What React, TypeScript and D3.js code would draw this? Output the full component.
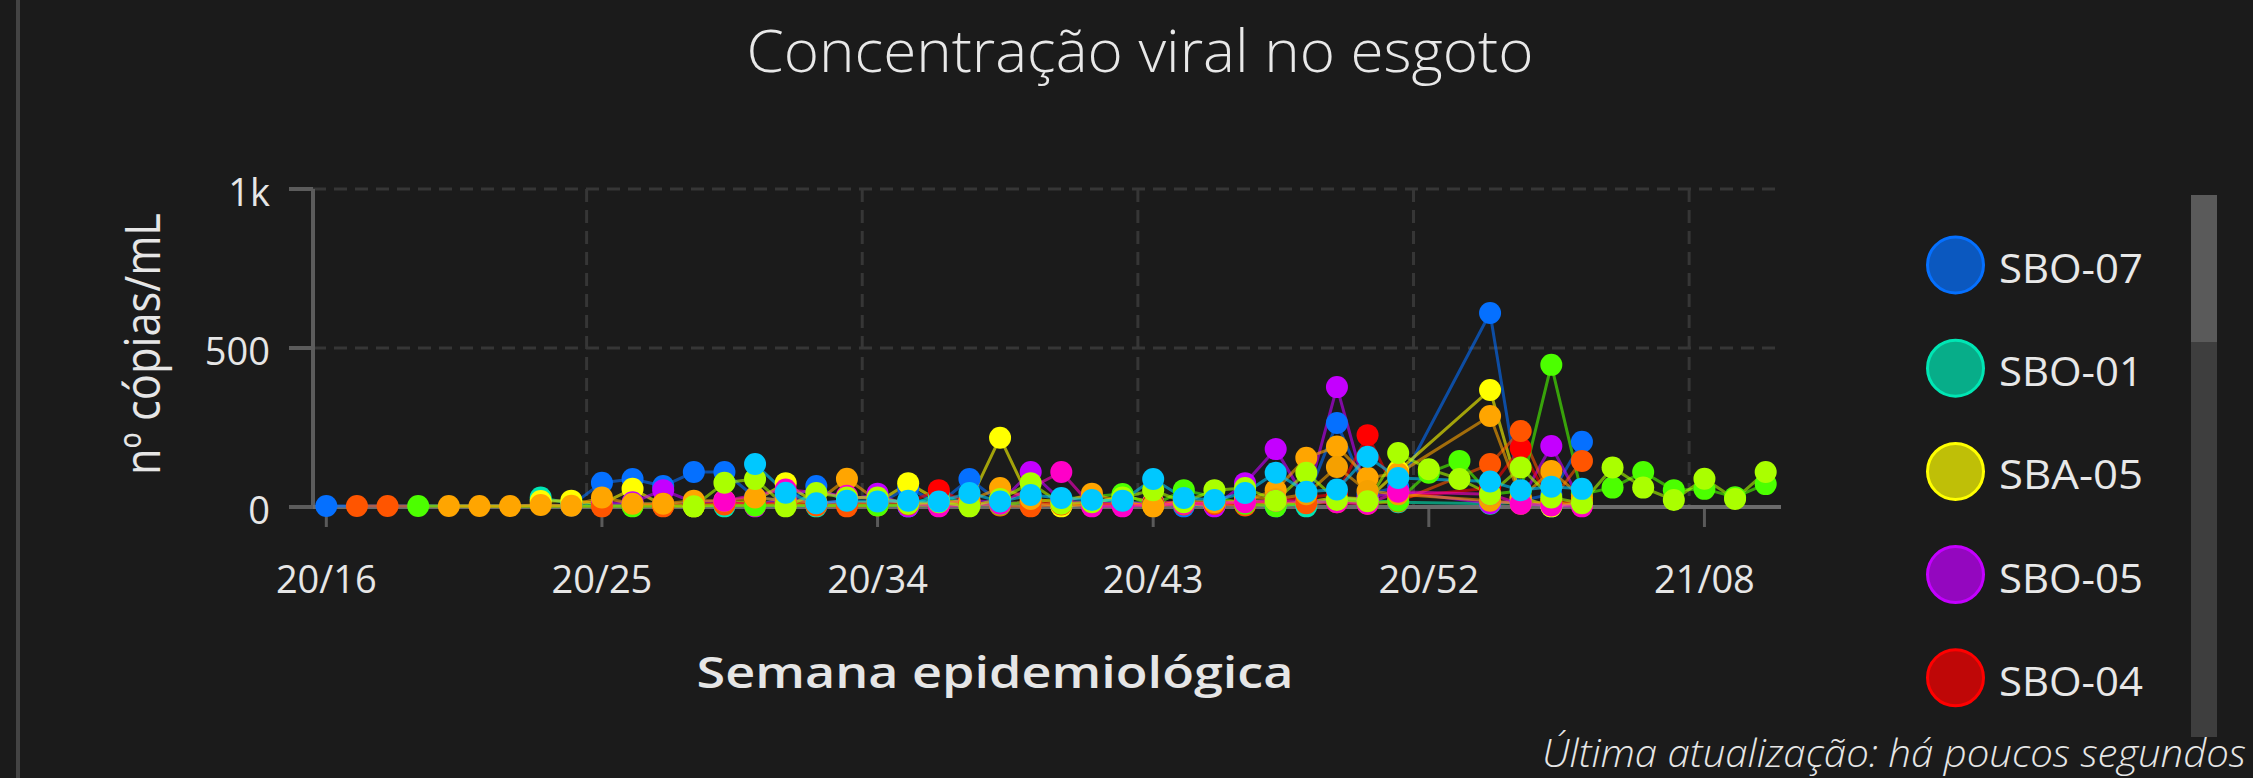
import React from "react";
import * as d3 from "d3";

const weeks = [
  "20/16", "20/17", "20/18", "20/19", "20/20", "20/21", "20/22", "20/23", "20/24", "20/25",
  "20/26", "20/27", "20/28", "20/29", "20/30", "20/31", "20/32", "20/33", "20/34", "20/35",
  "20/36", "20/37", "20/38", "20/39", "20/40", "20/41", "20/42", "20/43", "20/44", "20/45",
  "20/46", "20/47", "20/48", "20/49", "20/50", "20/51", "20/52", "20/53", "21/01", "21/02",
  "21/03", "21/04", "21/05", "21/06", "21/07", "21/08", "21/09", "21/10",
];
const tickWeeks = ["20/16", "20/25", "20/34", "20/43", "20/52", "21/08"];
const yTicks = [0, 500, 1000];
const yTickLabels = ["0", "500", "1k"];

const _ = null;
// nº cópias/mL per station, one entry per week (null = no sample)
const sbo07 = [3, _, _, _, _, _, _, _, 5, 76, 88, 66, 110, 110, 30, 20, 66, 15, 10, 60, 10, 88, 15, 10, 5, 8, 10, 12, 2, 10, 15, 2, 20, 264, 40, 63, _, _, 610, 20, 40, 205, _, _, _, _, _, _];
const sbo01 = [_, _, _, _, _, _, _, 30, 10, 5, 8, 10, 10, 2, 15, 10, 2, 10, 12, 2, 41, 10, 8, 5, 12, 10, 15, 10, 12, 8, 20, 15, 2, 30, 20, 15, _, _, 10, 15, 2, 10, _, _, _, _, _, _];
const sba05 = [_, _, _, _, _, _, _, 19, 20, 10, 57, 5, 2, 10, 20, 75, 10, 12, 15, 75, 20, 15, 218, 15, 2, 10, 35, 15, 10, 5, 20, 10, 15, 30, 25, 113, _, _, 368, 30, 2, 15, _, _, _, _, _, _];
const sbo05 = [_, _, _, _, _, _, _, _, _, 10, 15, 53, 15, 20, 2, 30, 10, 20, 42, 2, 10, 20, 15, 110, 20, 10, 12, 12, 15, 2, 75, 182, 20, 377, 30, 48, _, _, 12, 20, 192, 10, _, _, _, _, _, _];
const sbo04 = [_, _, _, _, _, _, _, _, _, _, 5, 10, 8, 10, 12, 10, 8, 10, 12, 15, 53, 12, 10, 15, 10, 12, 8, 10, 15, 10, 12, 20, 30, 40, 226, 30, _, _, 60, 185, 10, 20, _, _, _, _, _, _];
const sbo02 = [_, 3, 3, _, _, _, _, _, _, 2, 5, 2, 5, 8, 5, 10, 5, 2, 5, 8, 5, 10, 5, 2, 8, 5, 10, 5, 8, 10, 5, 10, 12, 15, 10, 17, _, _, 135, 239, 20, 145, _, _, _, _, _, _];
const sba01 = [_, _, _, 3, _, _, _, _, _, _, 2, _, _, _, 5, _, _, _, 5, _, _, _, 8, _, _, _, 41, 5, 53, _, 10, 2, _, 22, 12, 20, 108, 145, 40, 50, 447, 40, 61, 110, 53, 57, 31, 72];
const sbo03 = [_, _, _, _, 3, 3, 3, 6, 4, 30, 10, 10, 20, 20, 30, 20, 15, 89, 20, 15, 10, 20, 60, 25, 15, 42, 15, 2, 20, 15, 20, 53, 155, 190, 92, 105, _, _, 286, 28, 113, 30, _, _, _, _, _, _];
const sba02 = [_, _, _, _, _, _, _, _, _, _, _, _, _, _, _, _, _, _, _, _, _, _, _, _, _, _, _, _, _, _, 30, 25, 40, 126, 50, 40, _, _, 20, 10, 15, 5, _, _, _, _, _, _];
const sbo06 = [_, _, _, _, _, _, _, _, _, _, _, _, _, 20, _, 55, _, 35, _, _, 2, _, 10, _, 110, 2, 2, _, 10, _, 15, 20, _, 15, 10, 48, _, _, 40, 10, 5, 2, _, _, _, _, _, _];
const sba03 = [_, _, _, _, _, _, _, _, _, _, _, _, 2, 76, 88, 2, 44, 30, 30, 10, 15, 2, 25, 75, 10, 15, 30, 53, 15, 53, 60, 20, 108, 22, 18, 170, 119, 88, 40, 124, 30, 12, 124, 61, 22, 89, 25, 110];
const sba04 = [_, _, _, _, _, _, _, _, _, _, _, _, _, _, 135, 45, 12, 20, 17, 20, 17, 44, 17, 38, 28, 22, 20, 88, 28, 22, 44, 108, 48, 55, 158, 91, _, _, 80, 53, 64, 57, _, _, _, _, _, _];

const series = [
  { name: "SBO-07", color: "#0570ff", values: sbo07 },
  { name: "SBO-01", color: "#00e6b4", values: sbo01 },
  { name: "SBA-05", color: "#ffff00", values: sba05 },
  { name: "SBO-05", color: "#c400ff", values: sbo05 },
  { name: "SBO-04", color: "#ff0000", values: sbo04 },
  { name: "SBO-02", color: "#ff5500", values: sbo02 },
  { name: "SBA-01", color: "#4cff00", values: sba01 },
  { name: "SBO-03", color: "#ffa500", values: sbo03 },
  { name: "SBA-02", color: "#f5a000", values: sba02 },
  { name: "SBO-06", color: "#ff00c8", values: sbo06 },
  { name: "SBA-03", color: "#aaff00", values: sba03 },
  { name: "SBA-04", color: "#00c8ff", values: sba04 },
];
const legendCount = 5;

const W = 2253;
const H = 778;
const FONT = "'Open Sans', 'Noto Sans', sans-serif";

export default function App() {
  const x = d3.scaleBand<string>().domain(weeks).range([311, 1781]);
  const y = d3.scaleLinear().domain([0, 1000]).range([507, 189]);
  const bw = x.bandwidth();
  const cx = (w: string) => (x(w) as number) + bw / 2;

  const line = d3
    .line<{ w: string; v: number }>()
    .x((d) => cx(d.w))
    .y((d) => y(d.v));

  const pts = series.map((s) =>
    s.values
      .map((v, i) => ({ w: weeks[i], v }))
      .filter((d) => d.v !== null) as { w: string; v: number }[]
  );

  const [y0, y1] = y.range();
  const [xl, xr] = x.range();

  return (
    <svg
      width={W}
      height={H}
      style={{ position: "fixed", left: 0, top: 0, background: "#1b1b1b" }}
      fontFamily={FONT}
    >
      <rect width={W} height={H} fill="#1b1b1b" />
      <line x1={18} x2={18} y1={0} y2={H} stroke="#444" strokeWidth={4} />

      <text
        x={1140}
        y={72}
        textAnchor="middle"
        fill="#e8e8e8"
        fontSize={59}
        fontWeight={300}
        textLength={787}
        lengthAdjust="spacingAndGlyphs"
      >
        Concentração viral no esgoto
      </text>

      {/* grid */}
      <g stroke="#363636" strokeWidth={3} strokeDasharray="13 8">
        {yTicks.slice(1).map((t) => (
          <line key={t} x1={xl + 2} x2={xr} y1={y(t)} y2={y(t)} />
        ))}
        {tickWeeks.slice(1).map((w) => (
          <line key={w} x1={x(w)} x2={x(w)} y1={y1} y2={y0} />
        ))}
      </g>

      {/* y axis */}
      <g stroke="#5c5c5c" strokeWidth={4}>
        <line x1={313} x2={313} y1={y1} y2={y0} />
        {yTicks.map((t) => (
          <line key={t} x1={289} x2={313} y1={y(t)} y2={y(t)} />
        ))}
      </g>
      {yTicks.map((t, i) => (
        <text
          key={t}
          x={270}
          y={y(t) + 16.5}
          textAnchor="end"
          fill="#e6e6e6"
          fontSize={38}
        >
          {yTickLabels[i]}
        </text>
      ))}

      {/* x axis */}
      <line x1={313} x2={xr} y1={y0} y2={y0} stroke="#6b6b6b" strokeWidth={4} />
      {tickWeeks.map((w) => (
        <g key={w}>
          <line x1={cx(w)} x2={cx(w)} y1={y0 + 2} y2={y0 + 20} stroke="#5a5a5a" strokeWidth={3} />
          <text x={cx(w)} y={593} textAnchor="middle" fill="#e6e6e6" fontSize={38}>
            {w}
          </text>
        </g>
      ))}

      <text
        x={995}
        y={688}
        textAnchor="middle"
        fill="#e6e6e6"
        fontSize={43}
        fontWeight={600}
        textLength={597}
        lengthAdjust="spacingAndGlyphs"
      >
        Semana epidemiológica
      </text>
      <text
        transform="translate(160,344) rotate(-90)"
        textAnchor="middle"
        fill="#e6e6e6"
        fontSize={50}
        fontWeight={400}
        textLength={262}
        lengthAdjust="spacingAndGlyphs"
      >
        nº cópias/mL
      </text>

      {/* series */}
      <g fill="none" strokeWidth={3} strokeOpacity={0.6} strokeLinejoin="round">
        {series.map((s, k) => (
          <path key={s.name} d={line(pts[k]) ?? ""} stroke={s.color} />
        ))}
      </g>
      {series.map((s, k) => (
        <g key={s.name} fill={s.color}>
          {pts[k].map((d) => (
            <circle key={d.w} cx={cx(d.w)} cy={y(d.v)} r={11} />
          ))}
        </g>
      ))}

      {/* legend */}
      {series.slice(0, legendCount).map((s, k) => {
        const ly = 265 + k * 103.2;
        return (
          <g key={s.name}>
            <circle
              cx={1955.5}
              cy={ly}
              r={28}
              fill={s.color}
              fillOpacity={0.72}
              stroke={s.color}
              strokeWidth={3}
            />
            <text
              x={1999}
              y={ly + 18}
              fill="#e8e8e8"
              fontSize={41}
              textLength={144}
              lengthAdjust="spacingAndGlyphs"
            >
              {s.name}
            </text>
          </g>
        );
      })}
      <rect x={2191} y={195} width={26} height={542} fill="#3e3e3e" />
      <rect x={2191} y={195} width={26} height={147} fill="#5a5a5a" />

      <text
        x={2246}
        y={767}
        textAnchor="end"
        fill="#e6e6e6"
        fontSize={38}
        fontStyle="italic"
        fontWeight={300}
        textLength={704}
        lengthAdjust="spacingAndGlyphs"
      >
        Última atualização: há poucos segundos
      </text>
    </svg>
  );
}
